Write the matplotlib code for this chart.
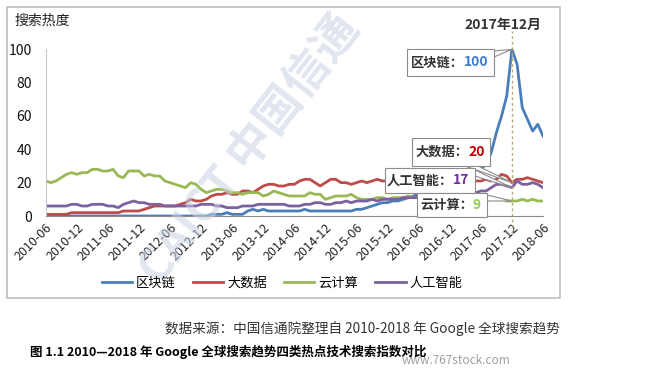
import matplotlib
matplotlib.use("Agg")
from matplotlib import pyplot as plt
from matplotlib.patches import Rectangle, Polygon

plt.rcParams['font.family'] = ['Noto Sans CJK SC', 'DejaVu Sans']

# monthly index 0 = 2010-06 ... 96 = 2018-06
months = list(range(97))
tick_labels = ['2010-06', '2010-12', '2011-06', '2011-12', '2012-06', '2012-12',
               '2013-06', '2013-12', '2014-06', '2014-12', '2015-06', '2015-12',
               '2016-06', '2016-12', '2017-06', '2017-12', '2018-06']

blockchain = [0] * 32 + [
    1, 1, 1, 2, 1, 1, 1, 3, 4, 3, 4, 3, 3, 3, 3, 3, 3, 3, 4, 3,
    3, 3, 3, 3, 3, 3, 3, 3, 4, 4, 5, 6, 7, 8, 8, 9, 9, 10, 11, 12,
    13, 14, 15, 16, 17, 18, 19, 20, 21, 22, 24, 26, 28, 31, 38, 50, 60, 72,
    100, 91, 65, 58, 51, 55, 48]

bigdata = [1, 1, 1, 1, 1, 2, 2, 2, 2, 2, 2, 2, 2, 2, 2, 3, 3, 3, 3, 4,
           5, 6, 6, 6, 6, 6, 7, 8, 10, 9, 9, 10, 12, 13, 13, 14, 13, 13, 15, 15,
           14, 16, 18, 19, 19, 18, 18, 19, 19, 21, 22, 22, 20, 18, 20, 22, 22, 20, 20, 19,
           20, 21, 20, 21, 22, 21, 21, 20, 22, 22, 21, 21, 21, 22, 21, 22, 21, 22, 21, 22,
           21, 21, 21, 21, 21, 22, 21, 22, 25, 24, 20, 22, 22, 23, 22, 21, 20]

cloud = [21, 20, 21, 23, 25, 26, 25, 26, 26, 28, 28, 27, 27, 28, 24, 23, 27, 27, 27, 24,
         25, 24, 24, 21, 20, 19, 18, 17, 20, 19, 16, 14, 15, 16, 16, 15, 14, 14, 13, 14,
         14, 14, 12, 13, 15, 14, 13, 12, 12, 12, 12, 14, 13, 13, 10, 11, 12, 12, 12, 13,
         11, 10, 10, 10, 11, 11, 10, 11, 11, 11, 12, 11, 11, 11, 10, 11, 11, 10, 11, 10,
         11, 11, 10, 11, 10, 11, 10, 10, 10, 9, 9, 9, 10, 9, 10, 9, 9]

ai = [6, 6, 6, 6, 6, 7, 7, 6, 6, 7, 7, 7, 6, 6, 5, 7, 8, 9, 8, 8,
      7, 7, 7, 6, 6, 6, 6, 6, 6, 6, 7, 7, 7, 6, 6, 5, 5, 5, 6, 6,
      6, 7, 7, 7, 7, 7, 7, 6, 6, 6, 7, 7, 8, 8, 7, 7, 8, 8, 9, 8,
      9, 9, 9, 10, 9, 10, 10, 10, 10, 11, 11, 11, 11, 11, 12, 12, 12, 12, 13, 13,
      13, 13, 14, 14, 15, 15, 17, 19, 19, 18, 17, 21, 19, 19, 20, 19, 17]

names = ['区块链', '大数据', '云计算', '人工智能']
colors = ['#4a7ebb', '#be4b48', '#98b954', '#7d60a0']
peak = 90  # 2017-12

W, H = 649, 372
fig = plt.figure(figsize=(W / 100, H / 100), dpi=100)


def fx(px):
    return px / W


def fy(py):
    return 1 - py / H


ax = fig.add_axes([fx(45.7), fy(216), fx(543) - fx(45.7), fy(49.3) - fy(216)])

# faint watermark
fig.text(fx(250), fy(150), 'CAICT 中国信通', fontsize=33, fontweight='bold',
         color='#c9d1e3', alpha=0.55, rotation=52, ha='center', va='center', zorder=0)

for vals, name, c in zip([blockchain, bigdata, cloud, ai], names, colors):
    ax.plot(months, vals, color=c, lw=2.0, label=name, solid_joinstyle='round')

ax.set_xlim(0, 96)
ax.set_ylim(0, 100)
ax.set_xticks(range(0, 97, 6))
ax.set_xticklabels(tick_labels, rotation=45, ha='right', va='top',
                   rotation_mode='anchor', fontsize=9, color='#222222')
ax.set_yticks(range(0, 101, 20))
ax.tick_params(axis='y', length=0, pad=10, labelsize=10, labelcolor='#111111')
ax.tick_params(axis='x', length=0, pad=4)
for s in ['top', 'right']:
    ax.spines[s].set_visible(False)
ax.spines['left'].set_color('#c8c8c8')
ax.spines['bottom'].set_color('#8c8c8c')
ax.patch.set_alpha(0)

ax.axvline(peak, ymin=-0.1, ymax=1.11, color='#b8a878', lw=1, ls=(0, (2, 2)), clip_on=False)

fig.text(fx(541), fy(25), '2017年12月', fontsize=10, fontweight='bold',
         color='#333333', ha='right', va='center')
fig.text(fx(14), fy(21), '搜索热度', fontsize=10, color='#222222', ha='left', va='center')

# callout boxes
tr = ax.transData + fig.transFigure.inverted()
boxes = [
    ((407, 49, 494, 76), '区块链：', '100', '#3d7cc9', blockchain[peak], 'right'),
    ((412, 138, 490, 166), '大数据：', '20', '#c00000', bigdata[peak], 'bottom'),
    ((385, 168, 475, 193), '人工智能：', '17', '#7030a0', ai[peak], 'right'),
    ((417, 193, 487, 217), '云计算：', '9', '#92d050', cloud[peak], 'right'),
]
for (x0, y0, x1, y1), lab, val, vc, v, side in boxes:
    tip = tr.transform((peak, v))
    if side == 'right':
        poly = [(fx(x1), fy(y0 + 2)), tuple(tip), (fx(x1), fy(y0 + 8))]
    else:
        poly = [(fx(x1 - 25), fy(y1)), tuple(tip), (fx(x1 - 12), fy(y1))]
    fig.add_artist(Polygon(poly, closed=True, facecolor='white', edgecolor='#8c8c8c',
                           lw=0.8, zorder=5))
    fig.add_artist(Rectangle((fx(x0), fy(y1)), fx(x1) - fx(x0), fy(y0) - fy(y1),
                             facecolor='white', edgecolor='#8c8c8c', lw=0.8, zorder=6))
    split = x1 - 6 - len(val) * 8
    fig.text(fx(split), fy((y0 + y1) / 2), lab, fontsize=9.5, fontweight='bold',
             color='#333333', ha='right', va='center', zorder=7)
    fig.text(fx(split), fy((y0 + y1) / 2), val, fontsize=10, fontweight='bold',
             color=vc, ha='left', va='center', zorder=7)

handles, labels = ax.get_legend_handles_labels()
fig.legend(handles, labels, ncol=4, loc='center', bbox_to_anchor=(fx(282), fy(283)),
           frameon=False, fontsize=9.5, handlelength=2.3, handletextpad=0.3,
           columnspacing=1.3)

# chart frame
fig.add_artist(Rectangle((fx(7), fy(298)), fx(560) - fx(7), fy(7) - fy(298),
                         fill=False, edgecolor='#bfbfbf', lw=1.2))

fig.text(fx(560), fy(329), '数据来源：中国信通院整理自 2010-2018 年 Google 全球搜索趋势',
         fontsize=9.8, color='#333333', ha='right', va='center')
fig.text(fx(30), fy(352), '图 1.1 2010—2018 年 Google 全球搜索趋势四类热点技术搜索指数对比',
         fontsize=9, fontweight='bold', color='#000000', ha='left', va='center')
fig.text(fx(510), fy(361), 'www.767stock.com', fontsize=8.5, color='#a0a0a0',
         ha='right', va='center')

fig.savefig('out.png', dpi=100)
